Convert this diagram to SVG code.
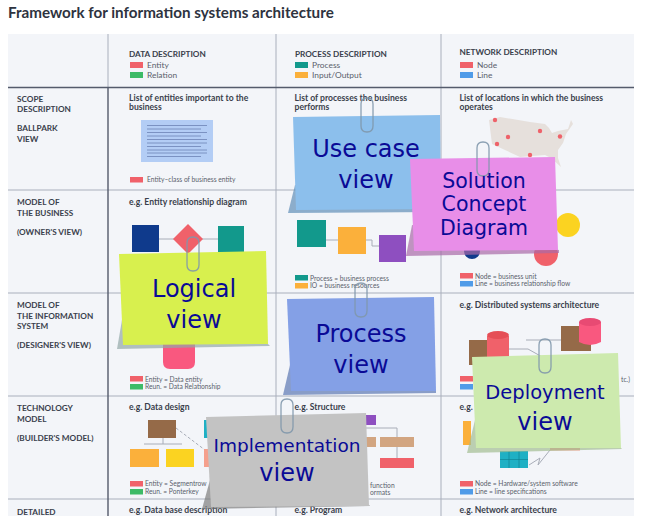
<svg xmlns="http://www.w3.org/2000/svg" width="646" height="516" viewBox="0 0 646 516">
<style>
text{font-family:"Lato","Noto Sans",sans-serif;fill:#3a3f4c}
.title{font-size:15.2px;font-weight:700;fill:#2e3340}
.h{font-size:8.2px;font-weight:700}
.t{font-size:8.6px;font-weight:700}
.l{font-size:8.4px;fill:#5a5f6c}
.s{font-size:6.7px;fill:#5a5f6c}
.n{font-family:"DejaVu Sans","Liberation Sans",sans-serif;font-size:24px;fill:#0a0a96;text-anchor:middle}
.grid{stroke:#a9afbc;stroke-width:1;fill:none}
.dark{stroke:#545b6c;stroke-width:1.4;fill:none}
.clip{fill:none;stroke:#7f97ab;stroke-width:1.3;opacity:.9}
.wire{stroke:#a8adb8;stroke-width:1;fill:none}
.shadow{opacity:.7}
</style>
<defs>
<path id="clip" d="M-6 -9V-15Q-6 -21 0 -21Q6 -21 6 -15V7Q6 13 0 13Q-6 13 -6 7V-12"/>
</defs>
<rect width="646" height="516" fill="#fff"/>
<text class="title" x="8" y="18">Framework for information systems architecture</text>
<rect x="8" y="34" width="626" height="482" fill="#f3f5f9"/>

<g id="connectors">
<path class="grid" d="M276 34V516M441 34V516M8 190H634M8 293H634M8 396H634M8 499H634M108 34V87"/>
<path class="dark" d="M8 87.5H634M108 87V516"/>
<path class="wire" d="M159 239H218"/>
<path class="wire" d="M326 240H338M366 240H372V246H379"/>
<path class="wire" d="M163 430V444M144 444H182"/>
<path class="wire" d="M176 428L205 450" stroke-dasharray="3 2"/>
<path class="wire" d="M366 428H397V460"/>
<path class="wire" d="M508 349H528L544 358M526 340H561"/>
<path class="wire" d="M529 465L540 458L538 465L550 450"/>
</g>

<g id="header">
<text class="h" x="129" y="57">DATA DESCRIPTION</text>
<rect x="130" y="62" width="13" height="6" fill="#f0616a"/><text class="l" x="147" y="68">Entity</text>
<rect x="130" y="72" width="13" height="6" fill="#3dbb67"/><text class="l" x="147" y="78">Relation</text>
<text class="h" x="295" y="57">PROCESS DESCRIPTION</text>
<rect x="295" y="62" width="13" height="6" fill="#12998c"/><text class="l" x="312" y="68">Process</text>
<rect x="295" y="72" width="13" height="6" fill="#fbb03b"/><text class="l" x="312" y="78">Input/Output</text>
<text class="h" x="459.500" y="55">NETWORK DESCRIPTION</text>
<rect x="460" y="62" width="13" height="6" fill="#f0616a"/><text class="l" x="477" y="68">Node</text>
<rect x="460" y="72" width="13" height="6" fill="#4f9be8"/><text class="l" x="477" y="78">Line</text>
</g>

<g id="rows">
<text class="h" x="17" y="102">SCOPE</text><text class="h" x="17" y="112">DESCRIPTION</text>
<text class="h" x="17" y="131">BALLPARK</text><text class="h" x="17" y="142">VIEW</text>
<text class="h" x="17" y="205">MODEL OF</text><text class="h" x="17" y="216">THE BUSINESS</text>
<text class="h" x="17" y="235">(OWNER'S VIEW)</text>
<text class="h" x="17" y="308">MODEL OF</text><text class="h" x="17" y="319">THE INFORMATION</text><text class="h" x="17" y="329">SYSTEM</text>
<text class="h" x="17" y="348">(DESIGNER'S VIEW)</text>
<text class="h" x="17" y="411">TECHNOLOGY</text><text class="h" x="17" y="422">MODEL</text>
<text class="h" x="17" y="441">(BUILDER'S MODEL)</text>
<text class="h" x="17" y="515">DETAILED</text>
</g>

<g id="cells">
<text class="t" x="129" y="101">List of entities important to the</text><text class="t" x="129" y="110">business</text>
<rect x="141" y="120" width="72" height="42" fill="#b3cdf5"/>
<path d="M147 125.500H207M147 129H201M147 132.500H207M147 136H201M147 139.500H207M147 143H207M147 146.500H201M147 150H207M147 153H207M147 156.500H201" stroke="#6c83b5" stroke-width=".8" fill="none"/>
<rect x="130" y="177" width="13" height="5.500" fill="#f0616a"/><text class="s" x="147" y="182">Entity–class of business entity</text>

<text class="t" x="294.500" y="101">List of processes the business</text><text class="t" x="294.500" y="110">performs</text>
<text class="t" x="459.500" y="101">List of locations in which the business</text><text class="t" x="459.500" y="110">operates</text>
<path d="M489 120L500 117L530 122L545 124L549 128L552 133L558 131L568 129L571 120L573 124L566 134L563 143L558 150L558 158L561 167L551 158L545 155L520 157L505 150L492 144Z" fill="#e6e0dc"/>
<g fill="#ee626a"><circle cx="495" cy="120" r="2.200"/><circle cx="508" cy="137" r="2.200"/><circle cx="497" cy="144" r="2.200"/><circle cx="540" cy="131" r="2.200"/><circle cx="560" cy="136.500" r="2.200"/><circle cx="530" cy="155" r="2.200"/></g>

<text class="t" x="129" y="205">e.g. Entity relationship diagram</text>
<rect x="132" y="225" width="27" height="27" fill="#0f3a8c"/>
<path d="M188 224L203 239L188 254L173 239Z" fill="#f0616a"/>
<rect x="218" y="226" width="26" height="26" fill="#12998c"/>
<rect x="297" y="220" width="29" height="27" fill="#12998c"/>
<rect x="338" y="227" width="28" height="27" fill="#fbb03b"/>
<rect x="379" y="235" width="27" height="27" fill="#8e4fc0"/>
<circle cx="568" cy="225" r="12" fill="#fbd321"/>
<circle cx="472" cy="251" r="8" fill="#0f3a8c"/>
<circle cx="546" cy="254" r="12" fill="#f0616a"/>
<rect x="295" y="275" width="13" height="5.500" fill="#12998c"/><text class="s" x="310" y="281">Process = business process</text>
<rect x="295" y="283" width="13" height="5.500" fill="#fbb03b"/><text class="s" x="310" y="288">IO = business resources</text>
<rect x="460" y="273" width="13" height="5.500" fill="#f0616a"/><text class="s" x="475" y="279">Node = business unit</text>
<rect x="460" y="281" width="13" height="5.500" fill="#4f9be8"/><text class="s" x="475" y="286">Line = business relationship flow</text>

<path d="M163 340H195V362Q195 369 188 369H170Q163 369 163 362Z" fill="#f9587f"/>
<rect x="130" y="376" width="13" height="5.500" fill="#f0616a"/><text class="s" x="145" y="382">Entity = Data entity</text>
<rect x="130" y="384" width="13" height="5.500" fill="#3dbb67"/><text class="s" x="145" y="389">Reun. = Data Relationship</text>

<text class="t" x="459.500" y="308">e.g. Distributed systems architecture</text>
<rect x="469" y="340" width="30" height="25" fill="#956a48"/>
<path d="M487 336V358H509V336Z" fill="#f0616a"/><ellipse cx="498" cy="335" rx="11" ry="4" fill="#e54e56"/>
<rect x="561" y="326" width="30" height="25" fill="#956a48"/>
<path d="M579 322V342Q590 348 601 342V322Z" fill="#f9587f"/><ellipse cx="590" cy="322" rx="11" ry="4" fill="#e84a73"/>
<rect x="460" y="376" width="13" height="5.500" fill="#f0616a"/>
<rect x="460" y="384" width="13" height="5.500" fill="#4f9be8"/>
<text class="s" x="621" y="382">tc.)</text>

<text class="t" x="129" y="410">e.g. Data design</text>
<rect x="148" y="420" width="28" height="18" fill="#956a48"/>
<rect x="130" y="449" width="29" height="18" fill="#fbb03b"/>
<rect x="166" y="449" width="28" height="18" fill="#fbd321"/>
<rect x="204" y="449" width="6" height="18" fill="#f5a08d"/>
<rect x="204" y="420" width="6" height="18" fill="#1fb0c4"/>
<rect x="130" y="481" width="13" height="5.500" fill="#f0616a"/><text class="s" x="145" y="486">Entity = Segmentrow</text>
<rect x="130" y="489" width="13" height="5.500" fill="#3dbb67"/><text class="s" x="145" y="494">Reun. = Ponterkey</text>
<text class="t" x="129" y="513">e.g. Data base description</text>

<text class="t" x="294.500" y="410">e.g. Structure</text>
<rect x="366" y="415" width="10" height="10" fill="#8e4fc0"/>
<rect x="366" y="437" width="10" height="10" fill="#d2a581"/>
<rect x="380" y="437" width="34" height="10" fill="#d2a581"/>
<rect x="380" y="458" width="34" height="10" fill="#f0616a"/>
<text class="s" x="370" y="488">function</text>
<text class="s" x="370" y="495">ormats</text>
<text class="t" x="294.500" y="513">e.g. Program</text>

<text class="t" x="459.500" y="410">e.g.</text>
<rect x="463" y="421" width="8" height="24" fill="#fbb03b"/>
<rect x="500" y="451" width="28" height="17" fill="#1fb0c4"/>
<path d="M500 459.500H528M509 451V468M519 451V468" stroke="#0d7e8e" stroke-width=".6"/>
<rect x="550" y="448" width="30" height="2.500" fill="#f5a08d"/>
<rect x="460" y="481" width="13" height="5.500" fill="#f0616a"/><text class="s" x="475" y="486">Node = Hardware/system software</text>
<rect x="460" y="489" width="13" height="5.500" fill="#4f9be8"/><text class="s" x="475" y="494">Line = line specifications</text>
<text class="t" x="459.500" y="513">e.g. Network architecture</text>
</g>

<g id="use-case">
<path class="shadow" d="M295 185L288 213L441 212V209Z" fill="#5f8fb8"/>
<path d="M293 117L440 115L441 209L296 210Z" fill="#8cbfec"/>
<use href="#clip" class="clip" x="367" y="119"/>
<text class="n" x="366" y="157">Use case</text><text class="n" x="366" y="188">view</text>
</g>

<g id="logical">
<path class="shadow" d="M122 320L117 349L270 346L268 344Z" fill="#93a8a8"/>
<path d="M119 254L266 251L268 344L123 345Z" fill="#d8f04e"/>
<use href="#clip" class="clip" x="193" y="258"/>
<text class="n" x="194" y="297">Logical</text><text class="n" x="194" y="328">view</text>
</g>

<g id="process">
<path class="shadow" d="M290 365L283 395L436 393V391Z" fill="#5b78b4"/>
<path d="M287 299L434 297L436 391L291 391Z" fill="#84a0e6"/>
<use href="#clip" class="clip" x="361" y="304"/>
<text class="n" x="361" y="342">Process</text><text class="n" x="361" y="373">view</text>
</g>

<g id="solution">
<path class="shadow" d="M412 225L406 256L559 253V250Z" fill="#a86aa8"/>
<path d="M410 159L555 157L558 250L414 251Z" fill="#e88ee8"/>
<use href="#clip" class="clip" x="483" y="163"/>
<g style="font-size:20px"><text class="n" x="484" y="188" style="font-size:20.500px">Solution</text><text class="n" x="484" y="211" style="font-size:20.500px">Concept</text><text class="n" x="484" y="235" style="font-size:20.500px">Diagram</text></g>
</g>

<g id="deployment">
<path class="shadow" d="M475 420L467 453L622 449L621 448Z" fill="#a3bd93"/>
<path d="M472 357L618 353L621 448L476 448Z" fill="#cdeaae"/>
<use href="#clip" class="clip" x="545" y="360"/>
<text class="n" x="545" y="399" style="font-size:19.500px">Deployment</text><text class="n" x="545" y="430" style="font-size:24px">view</text>
</g>

<g id="implementation">
<path class="shadow" d="M210 480L202 509L370 506L369 505Z" fill="#7d7d7d"/>
<path d="M206 417L366 413L369 506L211 507Z" fill="#c3c3c3"/>
<use href="#clip" class="clip" x="287" y="420"/>
<text class="n" x="287" y="452" style="font-size:18.500px">Implementation</text><text class="n" x="287" y="481" style="font-size:24px">view</text>
</g>
</svg>
